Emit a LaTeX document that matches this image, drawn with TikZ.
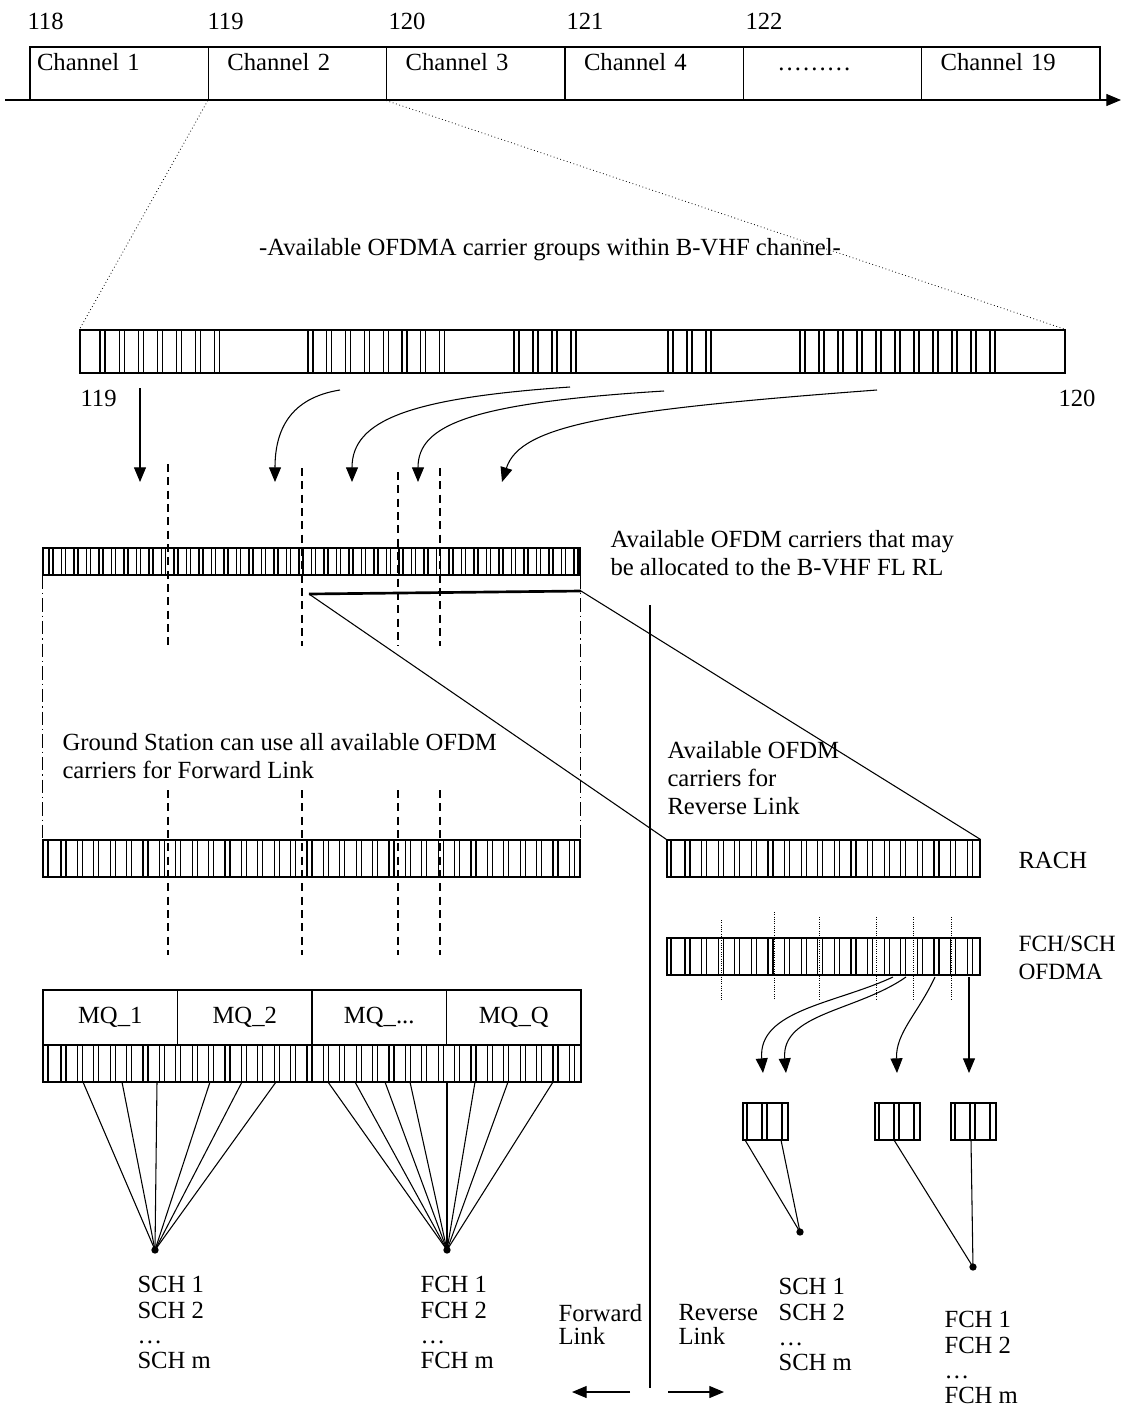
\documentclass[tikz,border=0pt]{standalone}
\usepackage{fontspec}
\setmainfont{Liberation Serif}
\usetikzlibrary{arrows.meta}

\begin{document}
\begin{tikzpicture}[
    x=0.75pt, y=-0.75pt,
    >={Triangle[length=11pt, width=9pt]},
    line width=0.8pt,
    font=\fontsize{18.5}{21}\selectfont,
    chan/.style={draw, minimum width=133.75pt, minimum height=39.75pt, inner sep=0pt,
                 align=left, text width=105.25pt, text height=10pt, text depth=14pt},
    bar/.style={draw, inner sep=0pt},
    mq/.style={draw, minimum width=100.875pt, minimum height=41.25pt, inner sep=0pt},
    cell/.style={draw, inner sep=0pt, minimum width=33.75pt, minimum height=27.75pt},
    dot/.style={circle, fill, inner sep=0pt, minimum size=5.5pt},
    txt/.style={anchor=west, align=left, inner sep=0pt},
    list/.style={anchor=north west, align=left, inner sep=0pt, font=\fontsize{18.5}{19}\selectfont}
]
    \useasboundingbox (0,0) rectangle (1122,1410);

    % Полоса каналов B-VHF
    \node[chan, text width=123.25pt] (ch1) at (119.17,73.5) {Channel 1};
    \node[chan] (ch2) at (297.5,73.5) {Channel 2};
    \node[chan] (ch3) at (475.83,73.5) {Channel 3};
    \node[chan] (ch4) at (654.17,73.5) {Channel 4};
    \node[chan, text width=82.75pt] (chd) at (832.5,73.5) {………};
    \node[chan] (ch19) at (1010.83,73.5) {Channel 19};

    % Частоты над полосой
    \node[txt, anchor=base west] (f118) at (27,29) {118};
    \node[txt, anchor=base west] (f119t) at (207,29) {119};
    \node[txt, anchor=base west] (f120t) at (388,29) {120};
    \node[txt, anchor=base west] (f121) at (566,29) {121};
    \node[txt, anchor=base west] (f122) at (745,29) {122};

    \coordinate (axL) at (5,100);
    \coordinate (axR) at (1121,100);
    \draw[->] (axL) -- (axR);

    % Группы несущих OFDMA внутри канала
    \node (title) at (550,250) {-Available OFDMA carrier groups within B-VHF channel-};
    \node[bar, minimum width=738.75pt, minimum height=32.25pt] (grp) at (572.5,351.5) {};
    \draw[dotted, line width=0.6pt] (ch2.south west) -- (grp.north west);
    \draw[dotted, line width=0.6pt] (ch3.south west) -- (grp.north east);
    \foreach \k in {0,...,6} \draw ({100+19.1*\k},330) -- ++(0,43) ++(5,0) -- ++(0,-43);
    \foreach \k in {0,...,7} \draw ({308+18.8*\k},330) -- ++(0,43) ++(5,0) -- ++(0,-43);
    \foreach \k in {0,...,3} \draw ({514+19*\k},330) -- ++(0,43) ++(5,0) -- ++(0,-43);
    \foreach \k in {0,...,2} \draw ({668+19*\k},330) -- ++(0,43) ++(5,0) -- ++(0,-43);
    \foreach \k in {0,...,10} \draw ({800+19*\k},330) -- ++(0,43) ++(5,0) -- ++(0,-43);
    \node[txt] (f119) at (80,398) {119};
    \node[txt] (f120) at (1058,398) {120};

    % Переносы групп на полосу OFDM
    \coordinate (g1) at (140,388);
    \coordinate (g2) at (340,390);
    \coordinate (g3) at (570,387);
    \coordinate (g4) at (664,391);
    \coordinate (g5) at (877,390);
    \coordinate (a1) at (140,482);
    \coordinate (a2) at (275,482);
    \coordinate (a3) at (352,482);
    \coordinate (a4) at (418,482);
    \coordinate (a5) at (502,482);
    \draw[->] (g1) -- (a1);
    \draw[->] (g2) .. controls (290,398) and (275,430) .. (a2);
    \draw[->] (g3) .. controls (410,398) and (352,420) .. (a3);
    \draw[->] (g4) .. controls (470,403) and (418,425) .. (a4);
    \draw[->] (g5) .. controls (610,410) and (520,425) .. (a5);

    % Полоса A
    \node[bar, minimum width=402.75pt, minimum height=20.25pt] (ofdmA) at (311.5,561.5) {};
    \foreach \k in {0,...,42} \draw ({49+12.5*\k},548) -- ++(0,27) ++(4,0) -- ++(0,-27);
    \node[txt] (availA) at (610,553) {Available OFDM carriers that may\\be allocated to the B-VHF FL RL};

    % Пунктирные границы
    \foreach \x/\t in {168/464, 302/468, 398/472, 440/468} {
        \draw[dash pattern=on 6pt off 4pt] (\x,\t) -- (\x,646);
        \draw[dash pattern=on 6pt off 4pt] (\x,790) -- (\x,955);
    }

    % Полоса B и RACH
    \node[bar, minimum width=402.75pt, minimum height=27.75pt] (ofdmB) at (311.5,858.5) {};
    \draw (48,840) -- (48,877);
    \foreach \k in {0,...,31} \draw ({61+16.4*\k},840) -- ++(0,37) ++(5,0) -- ++(0,-37);
    \draw[dash pattern=on 10pt off 3pt on 1pt off 3pt] (ofdmA.south west) -- (ofdmB.north west);
    \draw[dash pattern=on 10pt off 3pt on 1pt off 3pt] (ofdmA.south east) -- (ofdmB.north east);

    \node[bar, minimum width=234.75pt, minimum height=27.75pt] (rach) at (823.5,858.5) {};
    \draw (671,840) -- (671,877);
    \foreach \k in {0,...,17} \draw ({685+16.6*\k},840) -- ++(0,37) ++(5,0) -- ++(0,-37);
    \node[txt] (rachL) at (1018,860) {RACH};

    \coordinate (rlL) at (309,594);
    \coordinate (rlR) at (581,591);
    \draw[line width=2pt] (rlL) -- (rlR);
    \draw (rlL) -- (rach.north west);
    \draw (rlR) -- (rach.north east);

    \coordinate (divT) at (650,605);
    \coordinate (divB) at (650,1388);
    \draw (divT) -- (divB);

    \node[txt] (gsText) at (62,756) {Ground Station can use all available OFDM\\carriers for Forward Link};
    \node[txt] (rlText) at (667,778) {Available OFDM\\carriers for\\Reverse Link};

    % FCH/SCH
    \node[bar, minimum width=234.75pt, minimum height=27.75pt] (fch) at (823.5,956.5) {};
    \draw (671,938) -- (671,975);
    \foreach \k in {0,...,17} \draw ({685+16.6*\k},938) -- ++(0,37) ++(5,0) -- ++(0,-37);
    \foreach \x/\t in {721/920, 774/912, 819/917, 876/917, 913/917, 951/917}
        \draw[densely dotted, line width=0.7pt] (\x,\t) -- (\x,1000);
    \node[txt, font=\fontsize{17.5}{21}\selectfont] (fchL) at (1018,958) {FCH/SCH\\OFDMA};

    % MQ
    \node[mq] (mq1) at (110.25,1017.5) {MQ\_1};
    \node[mq] (mq2) at (244.75,1017.5) {MQ\_2};
    \node[mq] (mq3) at (379.25,1017.5) {MQ\_...};
    \node[mq] (mq4) at (513.75,1017.5) {MQ\_Q};
    \node[bar, minimum width=403.5pt, minimum height=27.75pt] (ofdmC) at (312,1063.5) {};
    \draw (48,1045) -- (48,1082);
    \foreach \k in {0,...,31} \draw ({61+16.4*\k},1045) -- ++(0,37) ++(5,0) -- ++(0,-37);

    % Веера к каналам
    \node[dot] (sdotL) at (155,1250) {};
    \node[dot] (fdotL) at (447,1250) {};
    \foreach \x [count=\i] in {83,122,157,210,242,276} {
        \coordinate (sl\i) at (\x,1082);
        \draw (sl\i) -- (sdotL.center);
    }
    \foreach \x [count=\i] in {328,355,385,410,447,475,508,553} {
        \coordinate (fl\i) at (\x,1082);
        \draw (fl\i) -- (fdotL.center);
    }
    \node[list] (schL) at (137,1276) {SCH 1\\SCH 2\\…\\SCH m};
    \node[list] (fchLst) at (420,1276) {FCH 1\\FCH 2\\…\\FCH m};

    % Обратная линия
    \coordinate (s1) at (893,977);
    \coordinate (s2) at (906,977);
    \coordinate (s3) at (935,977);
    \coordinate (s4) at (969,977);
    \coordinate (e1) at (763,1073);
    \coordinate (e2) at (786,1073);
    \coordinate (e3) at (897,1073);
    \coordinate (e4) at (969,1073);
    \draw[->] (s1) to[out=205, in=95] (e1);
    \draw[->] (s2) to[out=215, in=95] (e2);
    \draw[->] (s3) to[out=245, in=92] (e3);
    \draw[->] (s4) -- (e4);

    \node[cell] (b1) at (765.5,1121.5) {};
    \node[cell] (b2) at (897.5,1121.5) {};
    \node[cell] (b3) at (973.5,1121.5) {};
    \foreach \l in {743,875,951}
        \foreach \d in {4,19,24,39} \draw ({\l+\d},1103) -- ++(0,37);

    \node[dot] (sdotR) at (800,1232) {};
    \node[dot] (fdotR) at (973,1267) {};
    \coordinate (c1) at (745,1140);
    \coordinate (c2) at (781,1140);
    \coordinate (c3) at (894,1140);
    \coordinate (c4) at (971,1140);
    \draw (c1) -- (sdotR.center);
    \draw (c2) -- (sdotR.center);
    \draw (c3) -- (fdotR.center);
    \draw (c4) -- (fdotR.center);
    \node[list] (schR) at (778,1278) {SCH 1\\SCH 2\\…\\SCH m};
    \node[list] (fchR) at (944,1311) {FCH 1\\FCH 2\\…\\FCH m};

    % Направления
    \node[list, font=\fontsize{18.5}{17.5}\selectfont] (fwdL) at (558,1304) {Forward\\Link};
    \node[list, font=\fontsize{18.5}{17.5}\selectfont] (revL) at (678,1304) {Reverse\\Link};
    \coordinate (fwA) at (630,1392);
    \coordinate (fwB) at (572,1392);
    \coordinate (rvA) at (668,1392);
    \coordinate (rvB) at (724,1392);
    \draw[->] (fwA) -- (fwB);
    \draw[->] (rvA) -- (rvB);
\end{tikzpicture}
\end{document}
